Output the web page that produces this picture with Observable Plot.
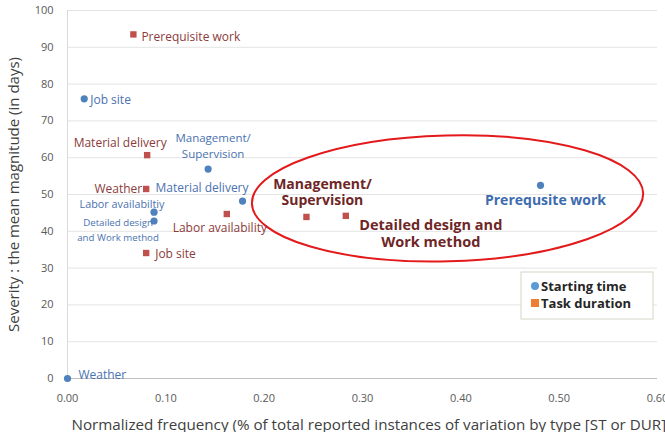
<!DOCTYPE html>
<html>
<head>
<meta charset="utf-8">
<script src="https://cdn.jsdelivr.net/npm/d3@7"></script>
<script src="https://cdn.jsdelivr.net/npm/@observablehq/plot@0.6"></script>
<style>
  html, body { margin: 0; padding: 0; background: #fff; overflow: hidden; }
  #chart svg { display: block; }
</style>
</head>
<body>
<div id="chart"></div>
<script>
// ---- Data ----
const stCategories = ["Weather", "Job site", "Labor availability", "Detailed design and Work method", "Management/Supervision", "Material delivery", "Prerequisite work"];
const stFrequency = [0.000, 0.017, 0.088, 0.088, 0.143, 0.178, 0.481];
const stSeverity = [0, 76, 45.2, 42.8, 56.9, 48.2, 52.5];
const stLabels = ["Weather", "Job site", "Labor availabiltiy", "Detailed design\nand Work method", "Management/\nSupervision", "Material delivery", "Prerequsite work"];

const tdCategories = ["Prerequisite work", "Material delivery", "Weather", "Job site", "Labor availability", "Management/Supervision", "Detailed design and Work method"];
const tdFrequency = [0.067, 0.081, 0.080, 0.080, 0.162, 0.243, 0.283];
const tdSeverity = [93.5, 60.7, 51.5, 34.1, 44.7, 43.9, 44.2];
const tdLabels = ["Prerequisite work", "Material delivery", "Weather", "Job site", "Labor availability", "Management/\nSupervision", "Detailed design and\nWork method"];

const xTicks = [0, 0.1, 0.2, 0.3, 0.4, 0.5, 0.6];
const yTicks = [0, 10, 20, 30, 40, 50, 60, 70, 80, 90, 100];
const seriesNames = ["Starting time", "Task duration"];
const xTitle = "Normalized frequency (% of total reported instances of variation by type [ST or DUR])";
const yTitle = "Severity : the mean magnitude (in days)";

// highlighted region (data units): center x, center y, radius x, radius y
const highlight = [0.387, 48.8, 0.199, 17.1];

// ---- Label layout (pixel offsets, styles) ----
const stLayout = [
  {dx: 11, dy: -4, anchor: "start", size: 12, weight: "normal", lh: 1.2},
  {dx: 6, dy: 1, anchor: "start", size: 12, weight: "normal", lh: 1.2},
  {dx: -32, dy: -8, anchor: "middle", size: 10.8, weight: "normal", lh: 1.2},
  {dx: -36, dy: 8, anchor: "middle", size: 9.7, weight: "normal", lh: 1.45},
  {dx: 5, dy: -24, anchor: "middle", size: 11.5, weight: "normal", lh: 1.35},
  {dx: 6, dy: -14, anchor: "end", size: 12, weight: "normal", lh: 1.2},
  {dx: 5, dy: 14, anchor: "middle", size: 14, weight: "bold", lh: 1.2}
];
const tdLayout = [
  {dx: 8, dy: 2, anchor: "start", size: 12, weight: "normal", lh: 1.2},
  {dx: -27, dy: -13, anchor: "middle", size: 12, weight: "normal", lh: 1.2},
  {dx: -4, dy: -1, anchor: "end", size: 12, weight: "normal", lh: 1.2},
  {dx: 9, dy: 0, anchor: "start", size: 12, weight: "normal", lh: 1.2},
  {dx: -7, dy: 13, anchor: "middle", size: 12, weight: "normal", lh: 1.2},
  {dx: 16, dy: -25, anchor: "middle", size: 14, weight: "bold", lh: 1.15},
  {dx: 85, dy: 17, anchor: "middle", size: 14.5, weight: "bold", lh: 1.2}
];

const stRows = stCategories.map((c, i) => ({category: c, x: stFrequency[i], y: stSeverity[i], label: stLabels[i], ...stLayout[i]}));
const tdRows = tdCategories.map((c, i) => ({category: c, x: tdFrequency[i], y: tdSeverity[i], label: tdLabels[i], ...tdLayout[i]}));

const FONT = "'Open Sans', 'Noto Sans', sans-serif";
const BLUE = "#4f81bd", BLUE_TXT = "#4a72b0", BLUE_BOLD = "#3d6cae";
const RED = "#c0504d", RED_TXT = "#8c3b3b", RED_BOLD = "#6e2626";

function labelMarks(rows, color, boldColor) {
  return rows.map(r => Plot.text([r], {
    x: "x", y: "y", text: "label",
    dx: r.dx, dy: r.dy, textAnchor: r.anchor,
    fontSize: r.size, fontWeight: r.weight, lineHeight: r.lh,
    fill: r.weight === "bold" ? boldColor : color
  }));
}

function ellipseMark(index, scales) {
  const [cx, cy, rx, ry] = highlight;
  const px = scales.x(cx), py = scales.y(cy);
  const prx = scales.x(cx + rx) - px, pry = py - scales.y(cy + ry);
  return d3.create("svg:ellipse")
    .attr("cx", px).attr("cy", py).attr("rx", prx).attr("ry", pry)
    .attr("fill", "none").attr("stroke", "#e3191c").attr("stroke-width", 2)
    .attr("transform", `rotate(-1.5 ${px} ${py})`)
    .node();
}

function legendMark(index, scales, values, dims) {
  const g = d3.create("svg:g");
  const x0 = dims.width - 144, y0 = 272, w = 132, h = 47;
  g.append("rect").attr("x", x0).attr("y", y0).attr("width", w).attr("height", h)
    .attr("fill", "#fff").attr("stroke", "#d6d6c8").attr("stroke-width", 1);
  g.append("circle").attr("cx", x0 + 14).attr("cy", y0 + 14).attr("r", 4).attr("fill", "#5b9bd5");
  g.append("rect").attr("x", x0 + 10).attr("y", y0 + 27).attr("width", 8).attr("height", 8).attr("fill", "#ed7d31");
  [seriesNames[0], seriesNames[1]].forEach((s, i) => {
    g.append("text").attr("x", x0 + 20).attr("y", y0 + 14 + i * 17).attr("dy", "0.35em")
      .attr("text-anchor", "start")
      .attr("font-size", 13).attr("font-weight", "bold").attr("fill", "#262626")
      .attr("font-family", FONT).text(s);
  });
  return g.node();
}

const chart = Plot.plot({
  width: 665,
  height: 432,
  marginLeft: 67,
  marginRight: 8,
  marginTop: 10,
  marginBottom: 54,
  style: {fontFamily: FONT, fontSize: "11px", color: "#595959", background: "#fff", overflow: "hidden"},
  x: {domain: [0, 0.6]},
  y: {domain: [0, 100]},
  marks: [
    Plot.ruleY(yTicks.filter(d => d > 0), {stroke: "#e4e4e4", strokeWidth: 1}),
    Plot.ruleX([0], {stroke: "#d9d9d9"}),
    Plot.ruleY([0], {stroke: "#bfbfbf"}),
    Plot.axisX({ticks: xTicks, tickFormat: d3.format(".2f"), tickSize: 0, tickPadding: 16, fontSize: 11, label: null, fill: "#595959"}),
    Plot.axisY({ticks: yTicks, tickFormat: d => d, tickSize: 0, tickPadding: 14, fontSize: 11, label: null, fill: "#595959"}),
    Plot.text([xTitle], {frameAnchor: "bottom-left", dx: 4, dy: 51, textAnchor: "start", fontSize: 15.2, fill: "#404040"}),
    Plot.text([yTitle], {frameAnchor: "left", dx: -53, dy: 0, rotate: -90, textAnchor: "middle", fontSize: 15, fill: "#404040"}),
    ellipseMark,
    Plot.dot(tdRows, {x: "x", y: "y", symbol: "square", r: 3.6, fill: RED, stroke: null}),
    Plot.dot(stRows, {x: "x", y: "y", r: 3.6, fill: BLUE, stroke: null}),
    ...labelMarks(stRows, BLUE_TXT, BLUE_BOLD),
    ...labelMarks(tdRows, RED_TXT, RED_BOLD),
    legendMark
  ]
});
document.getElementById("chart").appendChild(chart);
</script>
</body>
</html>
